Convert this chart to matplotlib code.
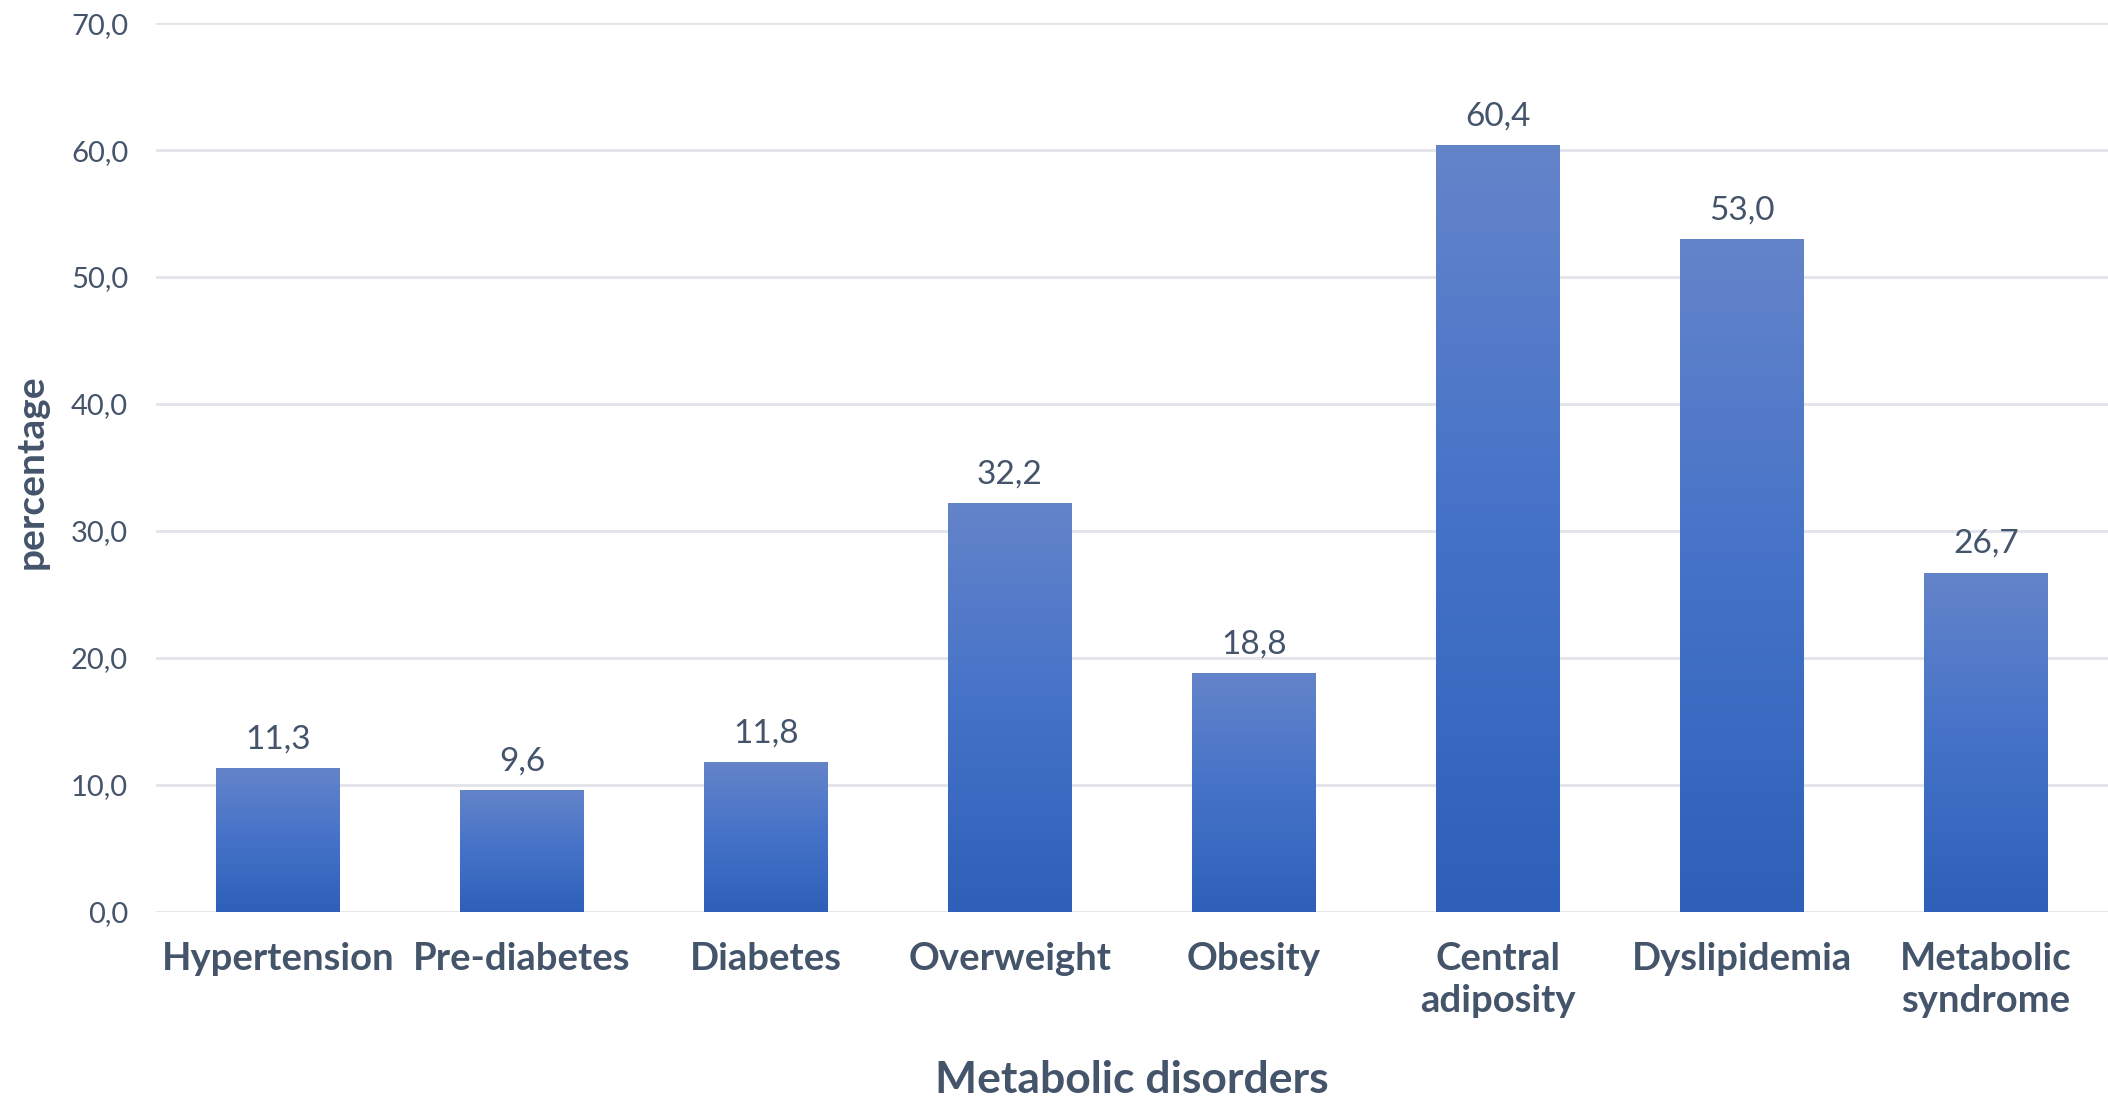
import numpy as np
import matplotlib.pyplot as plt
from matplotlib.colors import LinearSegmentedColormap

# data
categories = ["Hypertension", "Pre-diabetes", "Diabetes", "Overweight", "Obesity",
              "Central\nadiposity", "Dyslipidemia", "Metabolic\nsyndrome"]
percentages = [11.3, 9.6, 11.8, 32.2, 18.8, 60.4, 53.0, 26.7]
yticks = [0, 10, 20, 30, 40, 50, 60, 70]

text_color = "#44546A"
grid_color = "#E1E4E9"
plt.rcParams["font.family"] = ["Lato", "DejaVu Sans"]

fig = plt.figure(figsize=(21.08, 11), dpi=100)
ax = fig.add_axes([0.074, 0.171, 0.926, 0.808])

x = np.arange(len(categories))
bars = ax.bar(x, percentages, width=0.505, color="none", zorder=2)

# vertical gradient inside each bar: lighter on top, darker at the bottom
grad_cmap = LinearSegmentedColormap.from_list("bar_grad", ["#2E60B9", "#4472C8", "#6484CA"])
gradient = np.linspace(0, 1, 256).reshape(-1, 1)
for rect in bars:
    x0, w, h = rect.get_x(), rect.get_width(), rect.get_height()
    im = ax.imshow(gradient, cmap=grad_cmap, origin="lower", aspect="auto",
                   extent=[x0, x0 + w, 0, h], zorder=2)
    im.set_clip_path(rect)

ax.bar_label(bars, labels=[f"{v:.1f}".replace(".", ",") for v in percentages],
             padding=10, fontsize=24, color=text_color)

ax.set_xlim(-0.5, len(categories) - 0.5)
ax.set_ylim(0, 70)
ax.set_yticks(yticks)
ax.set_yticklabels([f"{t:.1f}".replace(".", ",") for t in yticks])
ax.set_xticks(x)
ax.set_xticklabels(categories, fontweight="bold", linespacing=1.28)

ax.tick_params(axis="y", length=0, pad=20, labelsize=21, labelcolor=text_color)
ax.tick_params(axis="x", length=0, pad=22, labelsize=27.5, labelcolor=text_color)

ax.grid(axis="y", color=grid_color, linewidth=2, zorder=0)
ax.set_axisbelow(True)
for side in ["top", "right", "left", "bottom"]:
    ax.spines[side].set_visible(False)

ax.set_xlabel("Metabolic disorders", fontsize=32, fontweight="bold", color=text_color, labelpad=30)
fig.text(0.015, 0.571, "percentage", rotation=90, fontsize=28, fontweight="bold",
         color=text_color, ha="center", va="center")

fig.savefig("out.png", dpi=100, facecolor="white")
